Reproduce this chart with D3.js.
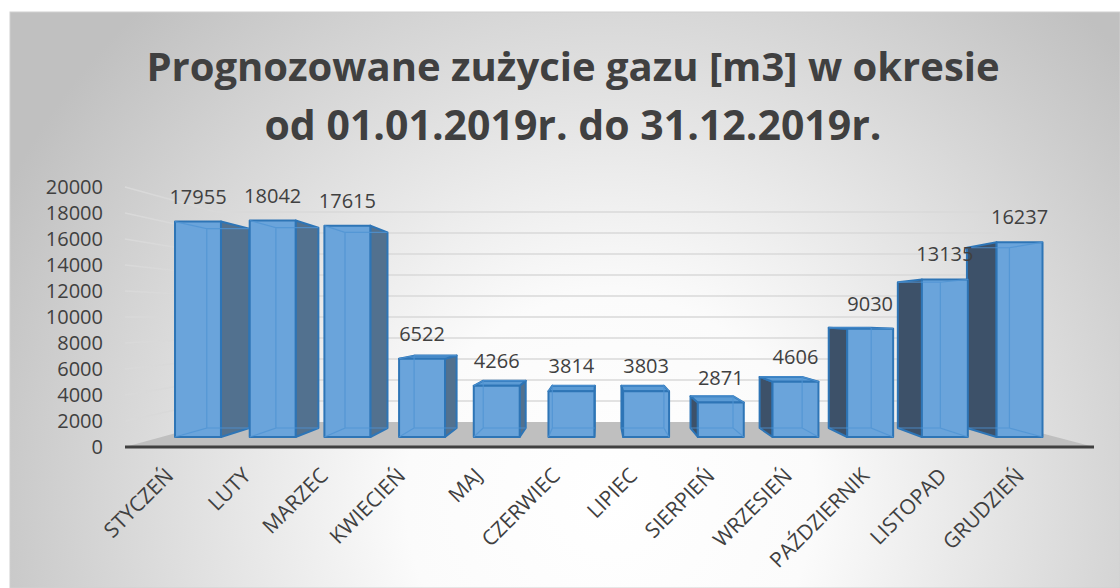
<!DOCTYPE html>
<html>
<head>
<meta charset="utf-8">
<script src="https://cdn.jsdelivr.net/npm/d3@7"></script>
<style>
  body { margin: 0; background: #fff; }
  text { font-family: "Open Sans", "Noto Sans", sans-serif; fill: #404040; }
</style>
</head>
<body>
<div id="chart"></div>
<script>
// Data
const months = ['STYCZEŃ', 'LUTY', 'MARZEC', 'KWIECIEŃ', 'MAJ', 'CZERWIEC',
    'LIPIEC', 'SIERPIEŃ', 'WRZESIEŃ', 'PAŹDZIERNIK', 'LISTOPAD', 'GRUDZIEŃ'];
const usage = [17955, 18042, 17615, 6522, 4266, 3814, 3803, 2871, 4606, 9030, 13135, 16237];
const yTicks = [0, 2000, 4000, 6000, 8000, 10000, 12000, 14000, 16000, 18000, 20000];
const titleLines = ['Prognozowane zużycie gazu [m3] w okresie', 'od 01.01.2019r. do 31.12.2019r.'];

const svgWidth = 1120;
const svgHeight = 588;

// perspective: vanishing point and depth scales (1 = front plane)
const vx = 600, vy = 317;
const sBack = 0.808;   // back wall
const sFront = 0.923;  // bar front face
const sRear = 0.854;   // bar back face

const svg = d3.select('#chart')
    .append('svg')
    .attr('width', svgWidth)
    .attr('height', svgHeight);

// background
const defs = svg.append('defs');
const grad = defs.append('radialGradient')
    .attr('id', 'bg')
    .attr('gradientUnits', 'userSpaceOnUse')
    .attr('cx', 610).attr('cy', 500).attr('r', 680);
grad.append('stop').attr('offset', '0').attr('stop-color', '#ffffff');
grad.append('stop').attr('offset', '0.3').attr('stop-color', '#fbfbfb');
grad.append('stop').attr('offset', '1').attr('stop-color', '#c0c0c0');

svg.append('rect')
    .attr('x', 10).attr('y', 12)
    .attr('width', svgWidth - 10).attr('height', svgHeight - 12)
    .attr('fill', 'url(#bg)')
    .attr('stroke', '#d0d0d0');

// Scales (front plane)
const x = d3.scaleBand()
    .domain(months)
    .range([125, 1094])
    .paddingInner(0.385)
    .paddingOuter(0.18);

const y = d3.scaleLinear()
    .domain([0, 20000])
    .range([447, 187]);

// project a front-plane point to depth s
const P = (X, Y, s) => [vx + (X - vx) * s, vy + (Y - vy) * s];
const poly = pts => 'M' + pts.map(p => p.join(',')).join('L') + 'Z';

// gridlines: side wall + back wall
const xL = x.range()[0], xR = x.range()[1];
const grid = svg.append('g');
yTicks.slice(1).forEach(t => {
    const a = P(xL, y(t), 1), b = P(xL, y(t), sBack), c = P(xR, y(t), sBack);
    grid.append('path')
        .attr('d', `M${a}L${b}L${c}`)
        .attr('fill', 'none')
        .attr('stroke', '#d9d9d9')
        .attr('stroke-width', 1.5);
});

// floor
svg.append('path')
    .attr('d', poly([P(xL, y(0), 1), P(xR, y(0), 1), P(xR, y(0), sBack), P(xL, y(0), sBack)]))
    .attr('fill', '#bfbfbf');
svg.append('line')
    .attr('x1', xL).attr('x2', xR)
    .attr('y1', y(0)).attr('y2', y(0))
    .attr('stroke', '#404040')
    .attr('stroke-width', 3);

// y axis labels
svg.append('g')
    .selectAll('text')
    .data(yTicks)
    .enter()
    .append('text')
    .attr('x', 103)
    .attr('y', d => y(d))
    .attr('dy', '0.35em')
    .attr('text-anchor', 'end')
    .style('font-size', '20px')
    .text(d => d);

// bars, drawn from the outside in so nearer ones cover
const order = d3.range(months.length)
    .sort((a, b) => Math.abs(x(months[b]) + x.bandwidth() / 2 - vx) - Math.abs(x(months[a]) + x.bandwidth() / 2 - vx));

const bars = svg.append('g');
order.forEach(i => {
    const x0 = x(months[i]), x1 = x0 + x.bandwidth();
    const y0 = y(0), y1 = y(usage[i]);
    const g = bars.append('g');
    const leftOfVp = (x0 + x1) / 2 < vx;
    const sx = leftOfVp ? x1 : x0;

    // side face
    g.append('path')
        .attr('d', poly([P(sx, y0, sFront), P(sx, y0, sRear), P(sx, y1, sRear), P(sx, y1, sFront)]))
        .attr('fill', leftOfVp ? '#52718f' : '#3d5169')
        .attr('stroke', '#2e75b6')
        .attr('stroke-width', 2)
        .attr('stroke-linejoin', 'round');

    // top face (only when below eye level)
    if (y1 > vy) {
        g.append('path')
            .attr('d', poly([P(x0, y1, sFront), P(x1, y1, sFront), P(x1, y1, sRear), P(x0, y1, sRear)]))
            .attr('fill', '#5b9bd5')
            .attr('stroke', '#2e75b6')
            .attr('stroke-width', 2)
            .attr('stroke-linejoin', 'round');
    }

    // front face
    g.append('path')
        .attr('d', poly([P(x0, y0, sFront), P(x1, y0, sFront), P(x1, y1, sFront), P(x0, y1, sFront)]))
        .attr('fill', '#6aa4db')
        .attr('stroke', '#2e75b6')
        .attr('stroke-width', 2)
        .attr('stroke-linejoin', 'round');

    // hidden back edges seen through the face
    const hx = leftOfVp ? x0 : x1;
    g.append('path')
        .attr('d', `M${P(hx, y0, sFront)}L${P(hx, y0, sRear)}L${P(hx, y1, sRear)}L${P(hx, y1, sFront)}` +
            `M${P(x0, y0, sRear)}L${P(x1, y0, sRear)}M${P(x0, y1, sRear)}L${P(x1, y1, sRear)}`)
        .attr('fill', 'none')
        .attr('stroke', '#4f93d3')
        .attr('stroke-width', 1.2)
        .attr('opacity', 0.8);
});

// value labels
svg.append('g')
    .selectAll('text')
    .data(usage)
    .enter()
    .append('text')
    .attr('x', (d, i) => P(x(months[i]) + x.bandwidth() / 2, y(d), sFront)[0])
    .attr('y', (d, i) => P(x(months[i]) + x.bandwidth() / 2, y(d), sFront)[1] - 25)
    .attr('dy', '0.35em')
    .attr('text-anchor', 'middle')
    .style('font-size', '20px')
    .text(d => d);

// category labels, rotated
const xLabel = d3.scaleBand()
    .domain(months)
    .range([136, 1064]);

svg.append('g')
    .selectAll('text')
    .data(months)
    .enter()
    .append('text')
    .attr('transform', d => `translate(${xLabel(d) + xLabel.bandwidth() / 2},477) rotate(-45)`)
    .attr('text-anchor', 'end')
    .style('font-size', '21px')
    .text(d => d);

// title
svg.append('g')
    .selectAll('text')
    .data(titleLines)
    .enter()
    .append('text')
    .attr('x', 573)
    .attr('y', (d, i) => 81 + i * 59)
    .attr('text-anchor', 'middle')
    .style('font-size', d => d === titleLines[0] ? '40px' : '41px')
    .style('font-weight', 'bold')
    .text(d => d);
</script>
</body>
</html>
